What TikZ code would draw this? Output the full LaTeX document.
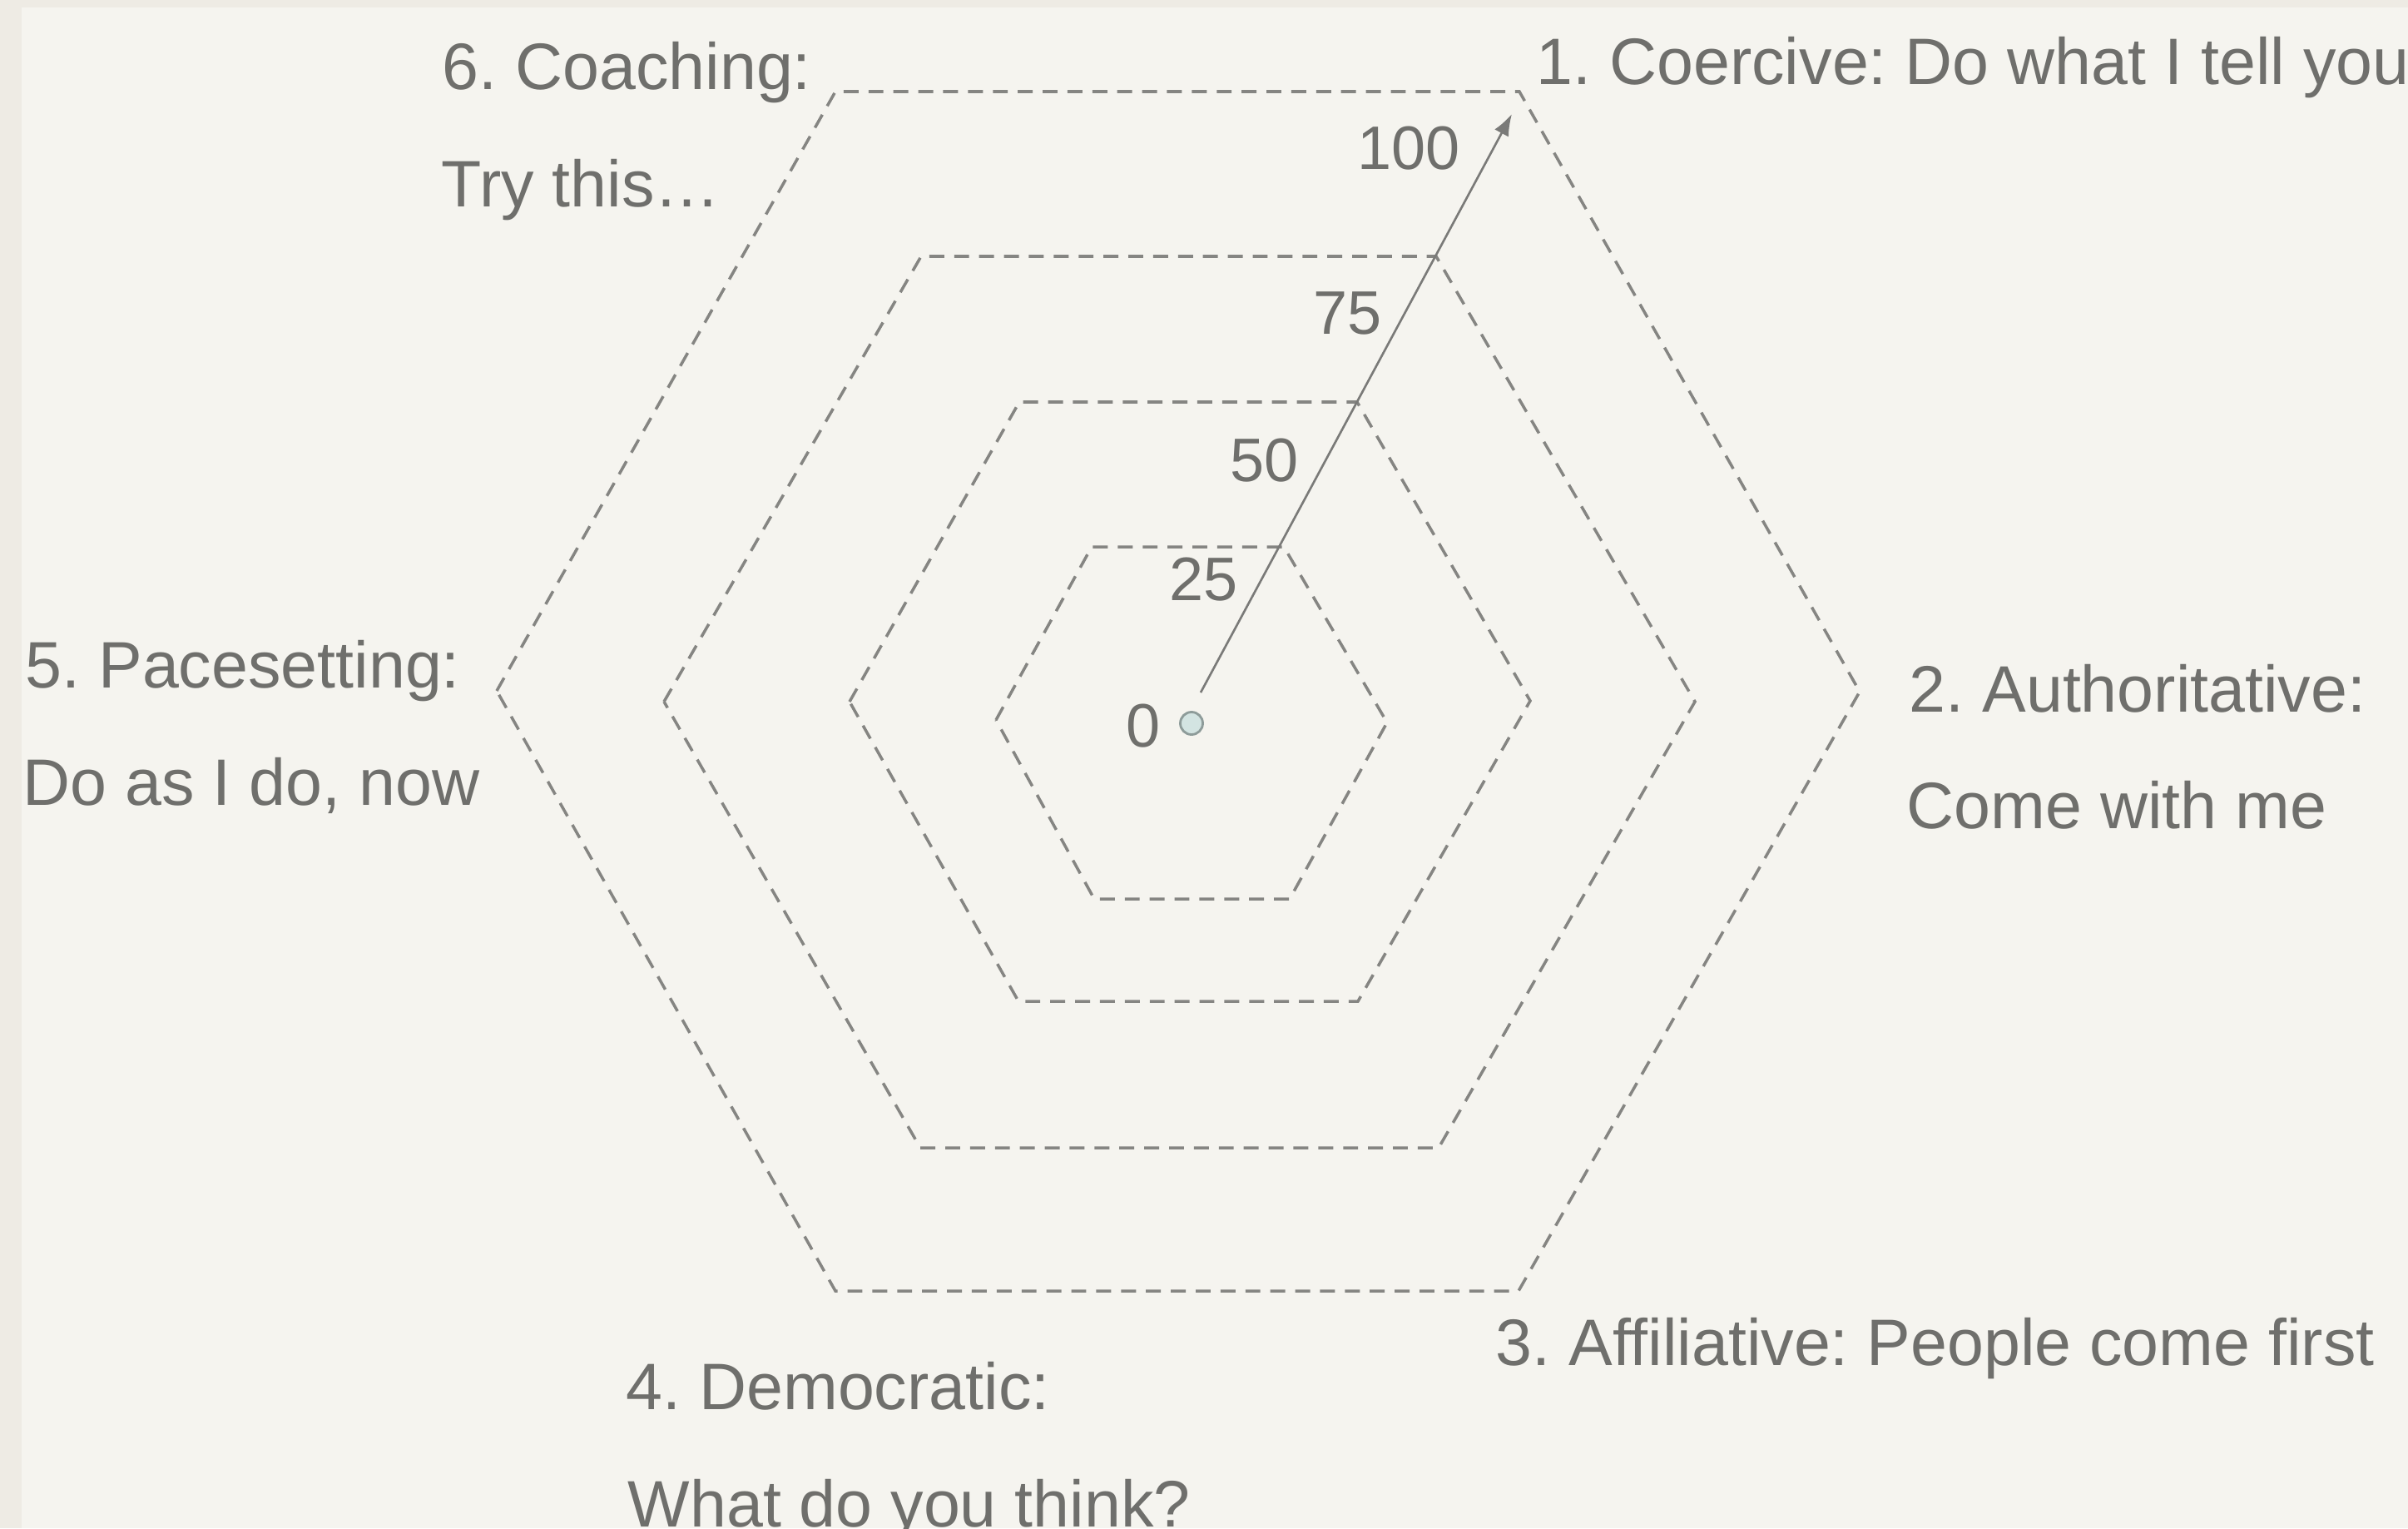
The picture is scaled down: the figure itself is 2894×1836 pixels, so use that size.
\documentclass[tikz,border=0pt]{standalone}
\usepackage{fontspec}
\setmainfont{Liberation Sans}
\usetikzlibrary{arrows.meta}
\frenchspacing
\definecolor{outerbg}{HTML}{EEEBE4}
\definecolor{innerbg}{HTML}{F5F4EF}
\definecolor{txt}{HTML}{6F6F6C}
\definecolor{hexline}{HTML}{858582}
\definecolor{axisline}{HTML}{7A7A78}
\definecolor{dotfill}{HTML}{D3E4E2}
\definecolor{dotline}{HTML}{8E9C9A}
\tikzset{
  hexring/.style={draw=hexline, line width=1pt, dash pattern=on 5.1pt off 3.4pt, line join=miter},
  stylelabel/.style={text=txt, inner sep=0pt, anchor=base west, font=\fontsize{22.45}{26}\selectfont},
  scalelabel/.style={text=txt, inner sep=0pt, anchor=base east, font=\fontsize{21}{25}\selectfont},
  axisarrow/.style={draw=axisline, line width=0.75pt, -{Latex[length=0.26cm,width=0.19cm]}},
  centerdot/.style={circle, fill=dotfill, draw=dotline, line width=0.8pt, minimum size=0.27cm, inner sep=0pt}
}
\begin{document}
\begin{tikzpicture}[x=0.01cm,y=-0.01cm]
\useasboundingbox (0,0) rectangle (2894,1836);
\fill[outerbg] (0,0) rectangle (2894,1836);
\fill[innerbg] (26,9) rectangle (2894,1836);

% hexagon rings (100, 75, 50, 25)
\draw[hexring] (597,830) -- (1004,110) -- (1826,110) -- (2235,831) -- (1825,1551) -- (1004,1551) -- cycle;
\draw[hexring] (798,843) -- (1107,308) -- (1726,308) -- (2037,843) -- (1729,1379) -- (1106,1379) -- cycle;
\draw[hexring] (1021,843) -- (1225,483) -- (1631,483) -- (1839,842) -- (1632,1203) -- (1224,1203) -- cycle;
\draw[hexring] (1197,865) -- (1312,657) -- (1543,657) -- (1667,868) -- (1550,1080) -- (1315,1080) -- cycle;

% centre and axis
\node[centerdot] (ctr) at (1432,869) {};
\coordinate (axstart) at (1443,832);
\coordinate (axend) at (1817,137);
\draw[axisarrow] (axstart) -- (axend);

% scale labels
\node[scalelabel] (s100) at (1755,203) {100};
\node[scalelabel] (s75) at (1661,401) {75};
\node[scalelabel] (s50) at (1561,578) {50};
\node[scalelabel] (s25) at (1488,721) {25};
\node[scalelabel] (s0) at (1395,897) {0};

% style labels
\node[stylelabel] (l1) at (1846,101) {1. Coercive: Do what I tell you};
\node[stylelabel] (l2a) at (2294,855) {2. Authoritative:};
\node[stylelabel] (l2b) at (2291,995) {Come with me};
\node[stylelabel] (l3) at (1797,1640) {3. Affiliative: People come first};
\node[stylelabel] (l4a) at (752,1693) {4. Democratic:};
\node[stylelabel] (l4b) at (754,1834) {What do you think?};
\node[stylelabel] (l5a) at (30,826) {5. Pacesetting:};
\node[stylelabel] (l5b) at (27,967) {Do as I do, now};
\node[stylelabel] (l6a) at (531,107) {6. Coaching:};
\node[stylelabel] (l6b) at (530,248) {Try this…};
\end{tikzpicture}
\end{document}
